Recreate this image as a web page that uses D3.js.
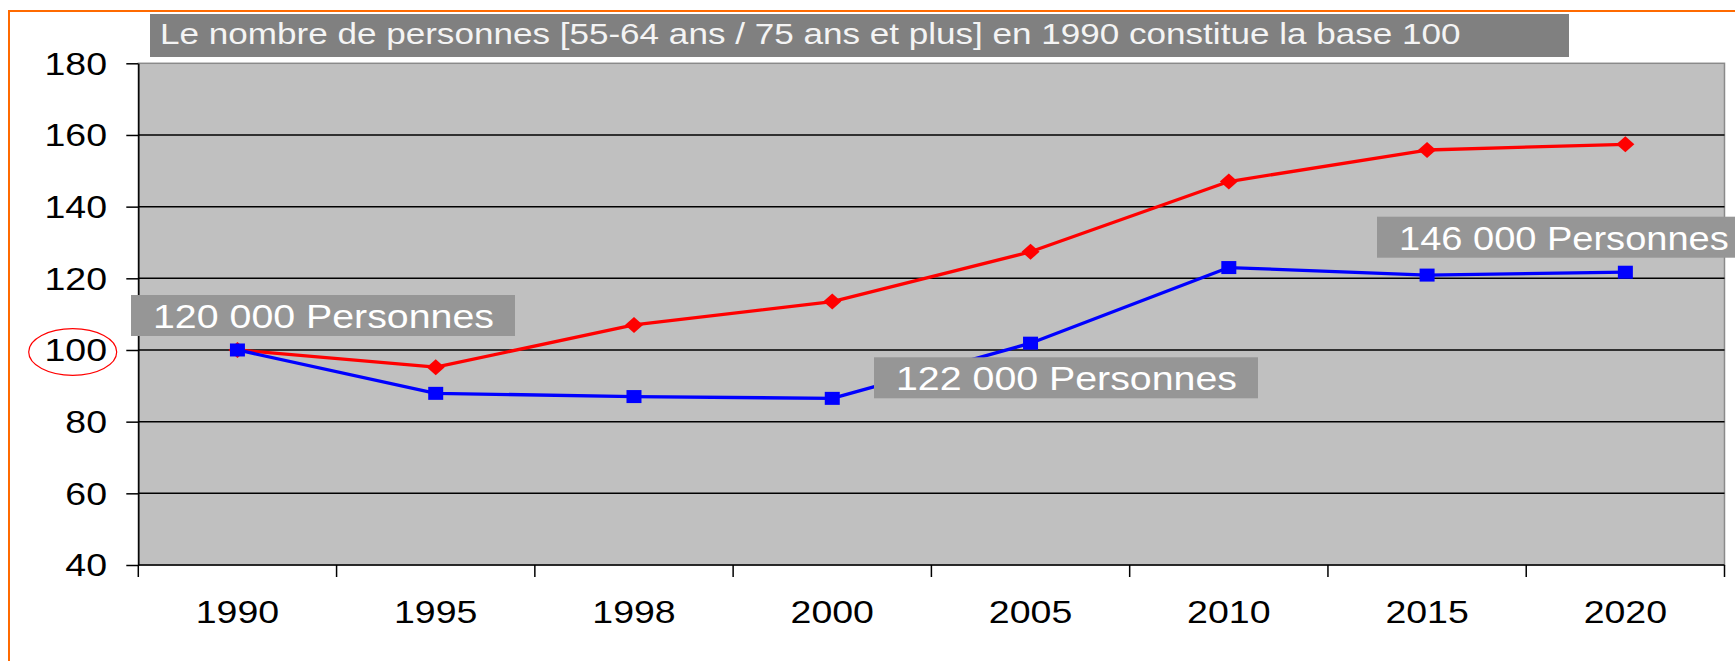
<!DOCTYPE html>
<html><head><meta charset="utf-8">
<script src="https://cdn.jsdelivr.net/npm/d3@7"></script>
<style>html,body{margin:0;padding:0;background:#fff;overflow:hidden}</style>
</head><body>
<svg id="chart" width="1735" height="661"></svg>
<script>
// ---- data ----
const categories = ["1990","1995","1998","2000","2005","2010","2015","2020"];
const seriesRed  = [100, 95.2, 107, 113.5, 127.4, 147, 155.8, 157.4];
const seriesBlue = [100, 87.9, 87, 86.5, 101.9, 123, 120.9, 121.7];
const yTicks = [40, 60, 80, 100, 120, 140, 160, 180];
const titleText = "Le nombre de personnes [55-64 ans / 75 ans et plus] en 1990 constitue la base 100";
const annotationTexts = ["120 000 Personnes", "122 000 Personnes", "146 000 Personnes"];
const highlightedTick = 100;

// ---- layout ----
const W = 1735, H = 661;
const L = 138.3, R = 1724.5, T = 63.3, B = 565;
const SX = 1.21; // horizontal text stretch of the original
const FONT = "'Liberation Sans', Arial, sans-serif";
const annotationLayout = [{x:131, y:295, sx:1.21}, {x:874, y:357.3, sx:1.21}, {x:1377, y:216.7, sx:1.17}];
const boxW = 384, boxH = 41;

const svg = d3.select("#chart");

const x = d3.scaleBand().domain(categories).range([L, R]).padding(0);
const y = d3.scaleLinear().domain([40, 180]).range([B, T]);
const cx = c => x(c) + x.bandwidth() / 2;

// orange frame
svg.append("rect").attr("x", 9).attr("y", 11).attr("width", 1900).attr("height", 900)
  .attr("fill", "none").attr("stroke", "#FF6A00").attr("stroke-width", 2);

// plot background
svg.append("rect").attr("x", L).attr("y", T).attr("width", R - L).attr("height", B - T)
  .attr("fill", "#C0C0C0").attr("stroke", "#8a8a8a").attr("stroke-width", 1.5);

// gridlines
svg.append("g").selectAll("line").data(yTicks.filter(d => d !== 40 && d !== 180)).join("line")
  .attr("x1", L).attr("x2", R).attr("y1", d => y(d)).attr("y2", d => y(d))
  .attr("stroke", "#000").attr("stroke-width", 1.5);

// y axis
const gy = svg.append("g").attr("transform", `translate(${L},0)`)
  .call(d3.axisLeft(y).tickValues(yTicks).tickSize(12).tickSizeOuter(0).tickFormat(d3.format("d")));
gy.select(".domain").attr("stroke", "#000").attr("stroke-width", 1.5);
gy.selectAll(".tick line").attr("stroke", "#000").attr("stroke-width", 1.5);
gy.selectAll(".tick text")
  .attr("x", null).attr("dy", null)
  .attr("text-anchor", "end")
  .attr("transform", `translate(-31.3,10.9) scale(${SX},1)`)
  .attr("font-family", FONT).attr("font-size", 31).attr("fill", "#000");

// x axis line + ticks at band boundaries
svg.append("line").attr("x1", L).attr("x2", R).attr("y1", B).attr("y2", B)
  .attr("stroke", "#000").attr("stroke-width", 1.5);
const bounds = categories.map(c => x(c)).concat([x.range()[1]]);
svg.append("g").selectAll("line").data(bounds).join("line")
  .attr("x1", d => d).attr("x2", d => d).attr("y1", B).attr("y2", B + 12)
  .attr("stroke", "#000").attr("stroke-width", 1.5);
svg.append("g").selectAll("text").data(categories).join("text")
  .attr("transform", d => `translate(${cx(d)},${B + 58}) scale(${SX},1)`)
  .attr("text-anchor", "middle").attr("font-family", FONT).attr("font-size", 31)
  .attr("fill", "#000").text(d => d);

// red ellipse around highlighted tick label
svg.append("ellipse").attr("cx", 72.7).attr("cy", y(highlightedTick) + 2)
  .attr("rx", 44).attr("ry", 23.3)
  .attr("fill", "none").attr("stroke", "#FF0000").attr("stroke-width", 1.2);

// lines
const line = d3.line().x(d => cx(d.c)).y(d => y(d.v));
const redData = categories.map((c, i) => ({c, v: seriesRed[i]}));
const blueData = categories.map((c, i) => ({c, v: seriesBlue[i]}));

svg.append("path").datum(redData).attr("d", line)
  .attr("fill", "none").attr("stroke", "#FF0000").attr("stroke-width", 3.3).attr("stroke-linejoin", "round");
svg.append("g").selectAll("path").data(redData).join("path")
  .attr("transform", d => `translate(${cx(d.c)},${y(d.v)})`)
  .attr("d", "M0,-8L9,0L0,8L-9,0Z").attr("fill", "#FF0000");

svg.append("path").datum(blueData).attr("d", line)
  .attr("fill", "none").attr("stroke", "#0000FF").attr("stroke-width", 3.3).attr("stroke-linejoin", "round");
svg.append("g").selectAll("rect").data(blueData).join("rect")
  .attr("x", d => cx(d.c) - 7.5).attr("y", d => y(d.v) - 6.5).attr("width", 15).attr("height", 13)
  .attr("fill", "#0000FF");

// annotation boxes
const ann = svg.append("g").selectAll("g").data(annotationTexts).join("g")
  .attr("transform", (d, i) => `translate(${annotationLayout[i].x},${annotationLayout[i].y})`);
ann.append("rect").attr("width", boxW).attr("height", boxH).attr("fill", "#969696");
ann.append("text").attr("transform", (d, i) => `translate(22,33) scale(${annotationLayout[i].sx},1)`)
  .attr("font-family", FONT).attr("font-size", 32.5).attr("fill", "#fff").text(d => d);

// title box
const tg = svg.append("g").attr("transform", "translate(150,14)");
tg.append("rect").attr("width", 1419).attr("height", 43).attr("fill", "#808080");
tg.append("text").attr("transform", `translate(10,30) scale(${SX},1)`)
  .attr("font-family", FONT).attr("font-size", 29).attr("fill", "#f4f4f4").text(titleText);
</script>
</body></html>
